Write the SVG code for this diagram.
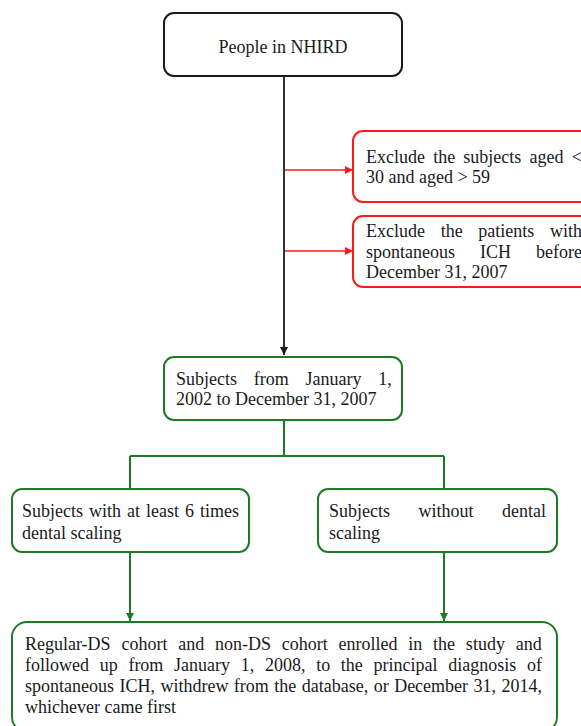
<svg xmlns="http://www.w3.org/2000/svg" width="581" height="726" viewBox="0 0 581 726">
<style>
text{font-family:"Liberation Serif","Times New Roman",serif;font-size:18px;fill:#1a1a1a}
.k{fill:#fff;stroke:#1a1a1a;stroke-width:2}
.r{fill:#fff;stroke:#ff1a1a;stroke-width:2}
.g{fill:#fff;stroke:#1f7a24;stroke-width:2}
.lk{stroke:#333;stroke-width:2;fill:none}
.lr{stroke:#ff1a1a;stroke-width:1.6;fill:none}
.lg{stroke:#1f7a24;stroke-width:2;fill:none}
</style>
<defs>
<marker id="ak" viewBox="0 0 10 10" refX="10" refY="5" markerWidth="4" markerHeight="4" orient="auto" markerUnits="strokeWidth"><path d="M0,0L10,5L0,10z" fill="#1a1a1a"/></marker>
<marker id="ar" viewBox="0 0 10 10" refX="10" refY="5" markerWidth="5" markerHeight="5" orient="auto" markerUnits="strokeWidth"><path d="M0,0L10,5L0,10z" fill="#ff1a1a"/></marker>
<marker id="ag" viewBox="0 0 10 10" refX="10" refY="5" markerWidth="4" markerHeight="4" orient="auto" markerUnits="strokeWidth"><path d="M0,0L10,5L0,10z" fill="#1f7a24"/></marker>
</defs>
<rect width="581" height="726" fill="#fff"/>
<g id="connectors">
<path class="lk" d="M284,76V355" marker-end="url(#ak)"/>
<path class="lr" d="M285,170H353" marker-end="url(#ar)"/>
<path class="lr" d="M285,251H353" marker-end="url(#ar)"/>
<path class="lg" d="M284,420V456M130,456H444M130,456V489M444,456V489"/>
<path class="lg" d="M130,552V621" marker-end="url(#ag)"/>
<path class="lg" d="M444,552V621" marker-end="url(#ag)"/>
</g>
<g id="n1">
<rect class="k" x="164" y="13" width="238" height="63" rx="10"/>
<text x="283" y="53" text-anchor="middle">People in NHIRD</text>
</g>
<g id="n2">
<rect class="r" x="353" y="131" width="245" height="71" rx="10"/>
<text x="366" y="163" word-spacing="3.7">Exclude the subjects aged &lt;</text>
<text x="366" y="183">30 and aged &gt; 59</text>
</g>
<g id="n3">
<rect class="r" x="353" y="216" width="245" height="71" rx="10"/>
<text x="366" y="237" word-spacing="11.2">Exclude the patients with</text>
<text x="366" y="258" word-spacing="20.5">spontaneous ICH before</text>
<text x="366" y="278">December 31, 2007</text>
</g>
<g id="n4">
<rect class="g" x="164" y="357" width="238" height="63" rx="10"/>
<text x="176" y="385" word-spacing="12.3">Subjects from January 1,</text>
<text x="176" y="405">2002 to December 31, 2007</text>
</g>
<g id="n5">
<rect class="g" x="12" y="489" width="237" height="63" rx="10"/>
<text x="22" y="517" word-spacing="1.5">Subjects with at least 6 times</text>
<text x="22" y="539">dental scaling</text>
</g>
<g id="n6">
<rect class="g" x="318" y="489" width="239" height="63" rx="10"/>
<text x="329" y="517" word-spacing="24">Subjects without dental</text>
<text x="329" y="539">scaling</text>
</g>
<g id="n7">
<rect class="g" x="12" y="622" width="545" height="110" rx="15"/>
<text x="25" y="650" word-spacing="6.29">Regular-DS cohort and non-DS cohort enrolled in the study and</text>
<text x="25" y="671" word-spacing="6.2">followed up from January 1, 2008, to the principal diagnosis of</text>
<text x="25" y="692" word-spacing="0.96">spontaneous ICH, withdrew from the database, or December 31, 2014,</text>
<text x="25" y="713">whichever came first</text>
</g>
</svg>
